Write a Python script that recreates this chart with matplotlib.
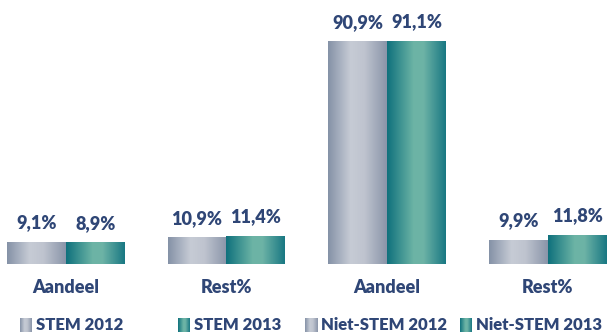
import numpy as np
import matplotlib
matplotlib.use('Agg')
import matplotlib.pyplot as plt
from matplotlib.colors import LinearSegmentedColormap

categories = ['Aandeel', 'Rest%', 'Aandeel', 'Rest%']
stem_2012 = [9.1, 10.9]
stem_2013 = [8.9, 11.4]
niet_2012 = [90.9, 9.9]
niet_2013 = [91.1, 11.8]
series_names = ['STEM 2012', 'STEM 2013', 'Niet-STEM 2012', 'Niet-STEM 2013']

txt = '#2f4676'
plt.rcParams['font.family'] = ['Lato', 'DejaVu Sans']
wt = 'heavy'

grey = LinearSegmentedColormap.from_list('grey', [
    (0.0, '#8592a7'), (0.38, '#c6cbd5'), (0.62, '#bfc4cf'), (1.0, '#8a95a9')])
teal = LinearSegmentedColormap.from_list('teal', [
    (0.0, '#0f717d'), (0.45, '#6cb4a5'), (0.62, '#6db3a6'), (1.0, '#197883')])
ramp = np.linspace(0, 1, 128).reshape(1, -1)


def fill_gradient(ax, bars, cmap):
    for b in bars:
        x0, y0 = b.get_x(), b.get_y()
        im = ax.imshow(ramp, cmap=cmap, aspect='auto', interpolation='bilinear',
                       extent=(x0, x0 + b.get_width(), y0, y0 + b.get_height()),
                       zorder=2)
        im.set_clip_path(b)


fig = plt.figure(figsize=(6.12, 3.36), dpi=100)
ax = fig.add_axes([0, 0.2143, 1, 0.729])

w = 0.367
xs_stem = np.array([0, 1])
xs_niet = np.array([2, 3])
groups = [
    (xs_stem - w / 2, stem_2012, grey),
    (xs_stem + w / 2, stem_2013, teal),
    (xs_niet - w / 2, niet_2012, grey),
    (xs_niet + w / 2, niet_2013, teal),
]
for xs, vals, cmap in groups:
    bars = ax.bar(xs, vals, width=w, facecolor='none', edgecolor='none')
    fill_gradient(ax, bars, cmap)
    for x, v in zip(xs, vals):
        ax.text(x, v + 4.3, f'{v:.1f}'.replace('.', ',') + '%', ha='center',
                va='bottom', fontsize=13, fontweight=wt, color=txt)

ax.set_xlim(-0.41, 3.40)
ax.set_ylim(0, 100)
ax.axis('off')

for i, c in enumerate(categories):
    ax.text(i, -9.8, c, ha='center', va='center', fontsize=13,
            fontweight=wt, color=txt)

# legend: small gradient swatches with labels
leg_x = [20, 178, 305, 460]
cmaps = [grey, teal, grey, teal]
for px, name, cmap in zip(leg_x, series_names, cmaps):
    sw = fig.add_axes([px / 612, 1 - 332 / 336, 12 / 612, 14 / 336])
    sw.imshow(ramp, cmap=cmap, aspect='auto', interpolation='bilinear')
    sw.axis('off')
    fig.text((px + 16) / 612, 1 - 325 / 336, name, ha='left', va='center',
             fontsize=12, fontweight=wt, color=txt)

fig.savefig('out.png', dpi=100)
